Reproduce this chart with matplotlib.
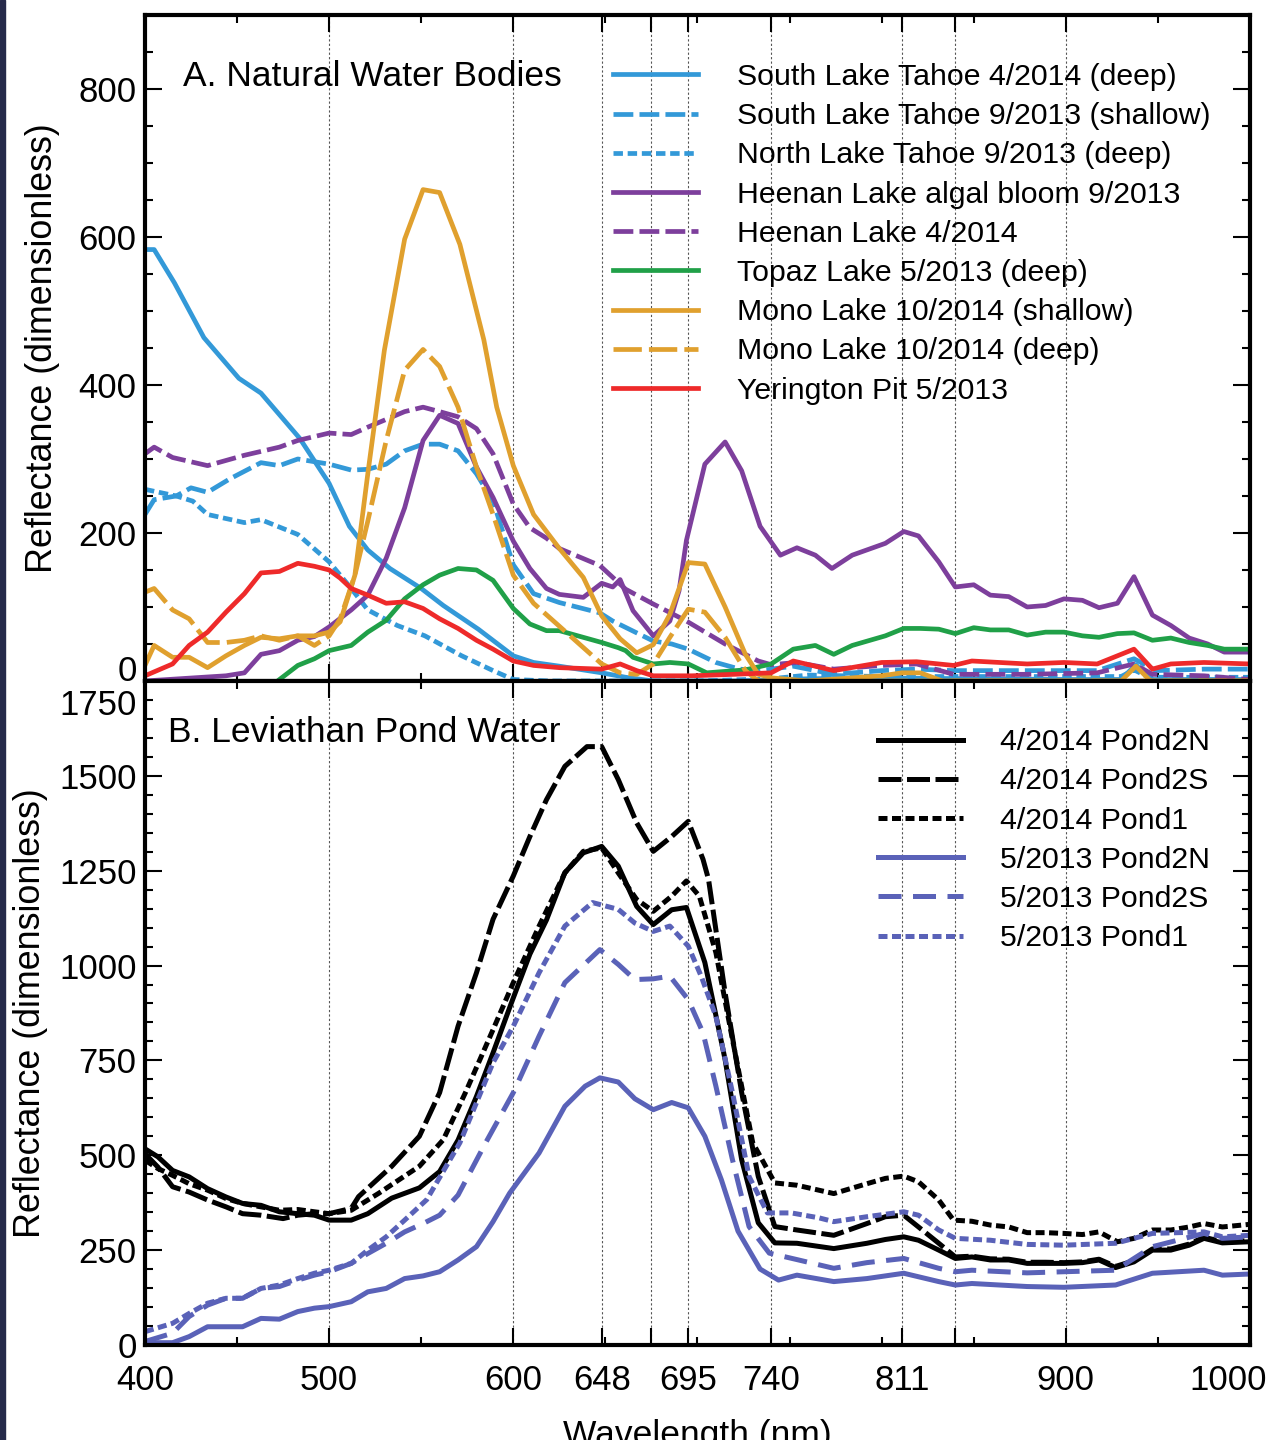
import matplotlib.pyplot as plt
import matplotlib.transforms as mtransforms
from matplotlib.patches import Rectangle

plt.rcParams['font.family'] = ['Liberation Sans', 'DejaVu Sans']

# ---------------- panel A: natural water bodies ----------------
tahoe_deep_wl = [400, 405, 416, 432, 451, 463, 484, 500, 511, 521, 533, 550, 562, 581, 600, 611, 625, 648,
                 661, 676, 720, 760, 800, 850, 900, 930, 938, 946, 970, 1000]
tahoe_deep = [583, 583, 538, 464, 409, 389, 328, 267, 209, 177, 152, 125, 102, 70, 34, 25, 20, 11,
              5, 0, 0, 3, 4, 3, 2, 2, 22, 2, 2, 2]

tahoe_shallow_wl = [400, 405, 417, 425, 434, 446, 463, 473, 483, 500, 512, 521, 531, 541, 551, 560, 570, 580,
                    589, 600, 611, 625, 647, 654, 667, 676, 686, 695, 710, 723, 733, 740, 752, 774, 800, 819,
                    839, 879, 917, 937, 949, 975, 1000]
tahoe_shallow = [225, 245, 250, 261, 255, 273, 295, 291, 300, 293, 285, 286, 293, 311, 320, 320, 311, 280,
                 243, 157, 118, 106, 92, 81, 65, 54, 50, 43, 25, 16, 14, 16, 20, 9, 14, 16,
                 14, 14, 14, 30, 14, 16, 16]

north_tahoe_wl = [400, 417, 426, 434, 454, 463, 483, 500, 512, 521, 537, 552, 572, 589, 600, 620, 700, 740,
                  760, 800, 850, 900, 930, 937, 945, 1000]
north_tahoe = [259, 250, 243, 225, 214, 218, 198, 161, 125, 96, 75, 61, 34, 14, 2, 0, 0, 3,
               8, 6, 6, 6, 6, 15, 5, 5]

heenan_bloom_wl = [400, 444, 454, 463, 473, 483, 492, 500, 512, 521, 531, 541, 551, 560, 570, 580, 589, 600,
                   609, 618, 625, 638, 648, 654, 658, 665, 676, 685, 690, 694, 704, 715, 724, 734, 745, 754,
                   764, 773, 784, 802, 812, 820, 831, 840, 850, 859, 869, 879, 889, 899, 909, 918, 928, 937,
                   947, 957, 967, 977, 986, 1000]
heenan_bloom = [0, 7, 11, 36, 41, 55, 60, 73, 96, 116, 166, 234, 325, 359, 348, 289, 248, 189,
                152, 125, 117, 113, 132, 127, 137, 95, 61, 81, 122, 190, 293, 323, 284, 209, 170, 180,
                170, 152, 170, 186, 202, 196, 161, 127, 130, 116, 114, 100, 102, 111, 109, 99, 105, 141,
                89, 75, 58, 50, 39, 39]

heenan_apr_wl = [400, 405, 415, 434, 454, 473, 483, 500, 512, 521, 541, 551, 560, 570, 580, 589, 600, 609,
                 618, 625, 647, 661, 676, 694, 715, 733, 740, 754, 774, 800, 819, 839, 879, 917, 937, 947,
                 975, 1000]
heenan_apr = [307, 316, 302, 291, 305, 316, 325, 335, 333, 343, 364, 370, 364, 357, 341, 307, 239, 207,
              193, 179, 156, 124, 104, 81, 50, 27, 22, 25, 16, 21, 23, 9, 9, 11, 23, 9,
              7, 2]

topaz_wl = [472, 483, 492, 500, 512, 521, 531, 541, 551, 560, 570, 580, 589, 600, 609, 618, 625, 648,
            657, 661, 665, 676, 685, 695, 705, 726, 740, 752, 764, 774, 784, 802, 812, 821, 831, 840,
            850, 859, 869, 879, 889, 899, 909, 918, 928, 937, 947, 957, 967, 977, 986, 1000]
topaz = [0, 21, 30, 41, 48, 66, 82, 111, 130, 143, 152, 150, 136, 98, 77, 68, 68, 52,
         45, 41, 32, 23, 25, 23, 11, 15, 23, 43, 48, 36, 48, 61, 71, 71, 70, 64,
         72, 69, 69, 62, 66, 66, 61, 59, 64, 65, 55, 58, 52, 48, 43, 43]

mono_shallow_wl = [400, 405, 415, 424, 434, 444, 454, 463, 473, 483, 492, 500, 506, 514, 521, 530, 541, 551,
                   560, 571, 584, 591, 600, 611, 625, 638, 648, 658, 667, 676, 685, 695, 704, 715, 726, 733,
                   741, 760, 800, 811, 821, 833, 930, 938, 946, 1000]
mono_shallow = [21, 48, 32, 32, 18, 34, 48, 59, 57, 61, 61, 66, 80, 143, 280, 447, 597, 664,
                660, 590, 461, 370, 291, 225, 179, 140, 88, 57, 38, 49, 90, 160, 158, 100, 36, 9,
                4, 0, 7, 11, 11, 0, 0, 20, 0, 0]

mono_deep_wl = [400, 405, 415, 424, 434, 444, 454, 463, 473, 483, 492, 500, 506, 514, 521, 531, 541, 551,
                560, 570, 580, 589, 600, 611, 625, 648, 658, 667, 676, 685, 695, 704, 715, 726, 733, 760,
                1000]
mono_deep = [120, 125, 96, 84, 52, 52, 55, 61, 55, 61, 48, 61, 84, 143, 216, 325, 420, 448,
             425, 370, 289, 225, 143, 105, 74, 23, 11, 9, 23, 59, 97, 93, 59, 14, 0, 0,
             0]

yerington_wl = [400, 415, 424, 434, 444, 454, 463, 473, 483, 492, 500, 506, 512, 521, 531, 541, 551, 560,
                570, 580, 589, 600, 611, 625, 648, 658, 667, 676, 697, 720, 740, 752, 774, 800, 819, 839,
                849, 879, 899, 917, 937, 947, 957, 975, 1000]
yerington = [7, 23, 48, 66, 93, 118, 146, 148, 159, 155, 150, 139, 125, 116, 105, 107, 98, 84,
             71, 55, 43, 27, 21, 18, 16, 23, 14, 7, 7, 9, 11, 27, 14, 25, 26, 21,
             27, 23, 25, 23, 43, 16, 23, 25, 23]

# ---------------- panel B: Leviathan pond water ----------------
p2n_14_wl = [400, 407, 415, 424, 434, 444, 453, 463, 473, 483, 492, 500, 512, 521, 534, 549, 560, 570,
             580, 589, 599, 609, 618, 628, 638, 648, 657, 667, 676, 686, 694, 704, 715, 724, 733, 742,
             754, 774, 792, 802, 812, 820, 831, 840, 849, 859, 869, 879, 889, 899, 909, 918, 927, 937,
             947, 957, 967, 975, 985, 1000]
p2n_14 = [517, 496, 460, 443, 412, 390, 373, 368, 351, 346, 342, 329, 329, 346, 387, 414, 457, 540,
          655, 770, 902, 1030, 1120, 1245, 1297, 1314, 1262, 1156, 1108, 1147, 1153, 1008, 752, 488, 322, 269,
          268, 254, 268, 278, 285, 276, 250, 228, 232, 224, 224, 215, 215, 215, 217, 224, 204, 219,
          250, 250, 263, 281, 269, 272]

p2s_14_wl = [400, 407, 415, 424, 434, 444, 453, 463, 475, 483, 492, 500, 512, 516, 534, 549, 560, 570,
             580, 589, 600, 609, 618, 628, 640, 648, 657, 667, 676, 686, 695, 703, 706, 715, 724, 733,
             742, 754, 774, 792, 802, 812, 820, 831, 840, 849, 859, 869, 879, 889, 899, 909, 918, 927,
             937, 947, 957, 967, 975, 985, 1000]
p2s_14 = [504, 469, 417, 403, 382, 364, 346, 342, 333, 342, 346, 346, 360, 391, 471, 550, 665, 840,
          981, 1122, 1236, 1340, 1437, 1525, 1577, 1577, 1490, 1376, 1301, 1340, 1380, 1280, 1227, 928, 665, 444,
          312, 303, 289, 320, 338, 342, 311, 268, 232, 234, 227, 226, 218, 218, 217, 219, 226, 207,
          222, 253, 253, 266, 284, 272, 275]

p1_14_wl = [400, 407, 415, 424, 434, 444, 453, 463, 473, 483, 492, 500, 512, 527, 549, 562, 574, 589,
            600, 614, 628, 638, 648, 657, 667, 676, 686, 694, 701, 710, 719, 730, 742, 754, 774, 792,
            802, 812, 820, 831, 839, 849, 859, 869, 879, 889, 899, 909, 918, 928, 937, 947, 957, 967,
            975, 985, 1000]
p1_14 = [487, 465, 447, 425, 408, 386, 373, 364, 355, 357, 351, 346, 355, 400, 471, 541, 665, 831,
         955, 1104, 1244, 1301, 1310, 1244, 1174, 1143, 1183, 1223, 1183, 1034, 805, 533, 427, 421, 399, 425,
         439, 445, 430, 382, 329, 326, 316, 311, 296, 296, 294, 291, 298, 272, 281, 303, 303, 311,
         320, 311, 318]

p2n_13_wl = [400, 415, 424, 434, 444, 453, 463, 473, 483, 492, 500, 512, 521, 531, 541, 551, 560, 570,
             580, 589, 598, 614, 628, 639, 647, 657, 666, 676, 686, 695, 704, 713, 722, 734, 744, 754,
             774, 792, 812, 831, 840, 849, 879, 899, 927, 947, 975, 985, 1000]
p2n_13 = [6, 6, 22, 48, 48, 48, 70, 68, 88, 97, 101, 114, 140, 149, 175, 182, 193, 224,
          259, 325, 400, 506, 629, 682, 704, 693, 649, 620, 639, 625, 550, 435, 300, 200, 171, 184,
          167, 175, 189, 167, 158, 162, 154, 152, 158, 189, 197, 184, 187]

p2s_13_wl = [400, 415, 424, 434, 444, 453, 463, 473, 483, 492, 500, 512, 521, 531, 541, 551, 560, 570,
             585, 600, 614, 628, 647, 657, 666, 676, 685, 695, 703, 710, 719, 728, 739, 754, 774, 792,
             812, 831, 840, 849, 879, 899, 927, 947, 975, 985, 1000]
p2s_13 = [9, 31, 75, 105, 123, 123, 149, 154, 171, 184, 193, 215, 241, 268, 298, 320, 342, 395,
          533, 665, 814, 955, 1042, 1003, 963, 965, 972, 910, 823, 682, 488, 312, 242, 225, 202, 217,
          228, 202, 193, 197, 190, 193, 197, 259, 294, 281, 285]

p1_13_wl = [400, 415, 424, 434, 444, 453, 463, 473, 483, 492, 500, 512, 521, 531, 541, 553, 571, 589,
            600, 614, 628, 643, 657, 666, 676, 685, 695, 702, 710, 719, 728, 738, 751, 766, 774, 792,
            812, 820, 831, 840, 859, 879, 899, 927, 947, 975, 985, 1000]
p1_13 = [35, 57, 83, 110, 123, 123, 149, 158, 175, 189, 197, 215, 250, 285, 329, 383, 533, 744,
         840, 981, 1104, 1166, 1148, 1112, 1090, 1104, 1051, 972, 866, 665, 444, 348, 348, 335, 325, 338,
         351, 342, 303, 281, 276, 265, 263, 268, 294, 298, 285, 289]

# axis ticks
major_ticks = [400, 500, 600, 648, 675, 695, 740, 811, 840, 900, 1000]
major_labels = ['400', '500', '600', '648', '', '695', '740', '811', '', '900', '1000']
minor_ticks = [450, 550, 650, 700, 750, 800, 850, 950]

BLUE = '#3399d8'
PURPLE = '#7d3f9c'
GREEN = '#20a048'
ORANGE = '#e0a02e'
RED = '#ee2a2a'
SLATE = '#5a62b8'

DASH = (4.2, 1.3)
DOT = (2.0, 1.0)

fig = plt.figure(figsize=(12.67, 14.4), dpi=100)
ax1 = fig.add_axes([0.1144, 0.5271, 0.8722, 0.4625])
ax2 = fig.add_axes([0.1144, 0.0660, 0.8722, 0.4611])
fig.patches.append(Rectangle((0, 0), 5 / 1267, 1, transform=fig.transFigure, color='#262a4a', zorder=0))

lw_a = 3.4
ax1.plot(tahoe_deep_wl, tahoe_deep, color=BLUE, lw=lw_a, label='South Lake Tahoe 4/2014 (deep)')
ax1.plot(tahoe_shallow_wl, tahoe_shallow, color=BLUE, lw=lw_a, dashes=DASH, label='South Lake Tahoe 9/2013 (shallow)')
ax1.plot(north_tahoe_wl, north_tahoe, color=BLUE, lw=lw_a, dashes=DOT, label='North Lake Tahoe 9/2013 (deep)')
ax1.plot(heenan_bloom_wl, heenan_bloom, color=PURPLE, lw=lw_a, label='Heenan Lake algal bloom 9/2013')
ax1.plot(heenan_apr_wl, heenan_apr, color=PURPLE, lw=lw_a, dashes=DASH, label='Heenan Lake 4/2014')
ax1.plot(topaz_wl, topaz, color=GREEN, lw=lw_a, label='Topaz Lake 5/2013 (deep)')
ax1.plot(mono_shallow_wl, mono_shallow, color=ORANGE, lw=lw_a, label='Mono Lake 10/2014 (shallow)')
ax1.plot(mono_deep_wl, mono_deep, color=ORANGE, lw=lw_a, dashes=(6.0, 1.5), label='Mono Lake 10/2014 (deep)')
ax1.plot(yerington_wl, yerington, color=RED, lw=lw_a, label='Yerington Pit 5/2013')

lw_b = 3.6
ax2.plot(p2n_14_wl, p2n_14, color='black', lw=lw_b, label='4/2014 Pond2N')
ax2.plot(p2s_14_wl, p2s_14, color='black', lw=lw_b, dashes=(4.6, 1.1), label='4/2014 Pond2S')
ax2.plot(p1_14_wl, p1_14, color='black', lw=lw_b, dashes=(1.8, 0.9), label='4/2014 Pond1')
ax2.plot(p2n_13_wl, p2n_13, color=SLATE, lw=lw_b, label='5/2013 Pond2N')
ax2.plot(p2s_13_wl, p2s_13, color=SLATE, lw=lw_b, dashes=(4.6, 2.3), label='5/2013 Pond2S')
ax2.plot(p1_13_wl, p1_13, color=SLATE, lw=lw_b, dashes=(1.8, 0.9), label='5/2013 Pond1')

ax1.set_ylim(0, 900)
ax1.set_yticks([0, 200, 400, 600, 800])
ax1.set_yticks(range(50, 900, 50), minor=True)
ax2.set_ylim(0, 1750)
ax2.set_yticks(range(0, 1751, 250))
ax2.set_yticks(range(50, 1750, 50), minor=True)

for ax in (ax1, ax2):
    ax.set_xlim(400, 1000)
    ax.set_xticks(major_ticks)
    ax.set_xticklabels(major_labels)
    ax.set_xticks(minor_ticks, minor=True)
    ax.tick_params(which='both', direction='in', top=True, right=True, width=1.5, labelsize=25)
    ax.tick_params(which='major', length=12)
    ax.tick_params(which='minor', length=6)
    ax.tick_params(axis='y', pad=6)
    ax.grid(axis='x', which='major', color='#555555', linestyle=(0, (2, 2)), linewidth=0.8)
    for s in ax.spines.values():
        s.set_linewidth(3)
    ax.set_ylabel('Reflectance (dimensionless)', fontsize=25.8)

ax1.tick_params(axis='x', labelbottom=False)
ax2.tick_params(axis='x', pad=14)
ax1.yaxis.set_label_coords(-0.077, 0.5)
ax2.yaxis.set_label_coords(-0.088, 0.5)
ax2.set_xlabel('Wavelength (nm)', fontsize=25.5)
ax2.xaxis.set_label_coords(0.5, -0.112)

ax1.text(0.034, 0.893, 'A. Natural Water Bodies', transform=ax1.transAxes, fontsize=25.5, va='baseline')
ax2.text(0.021, 0.908, 'B. Leviathan Pond Water', transform=ax2.transAxes, fontsize=25.5, va='baseline')

ax1.legend(loc='upper left', bbox_to_anchor=(0.4235, 0.928), frameon=False, fontsize=21.8,
           handlelength=2.8, handletextpad=1.3, labelspacing=0.37, borderpad=0, borderaxespad=0)
ax2.legend(loc='upper left', bbox_to_anchor=(0.6633, 0.929), frameon=False, fontsize=21.8,
           handlelength=2.8, handletextpad=1.22, labelspacing=0.37, borderpad=0, borderaxespad=0)

# nudge crowded tick labels like the original
ax1.yaxis.get_major_ticks()[0].label1.set_verticalalignment('baseline')
top_lab = ax2.yaxis.get_major_ticks()[-1].label1
top_lab.set_verticalalignment('top')
top_lab.set_transform(top_lab.get_transform() + mtransforms.ScaledTranslation(0, -0.08, fig.dpi_scale_trans))
lab = ax2.xaxis.get_major_ticks()[-1].label1
lab.set_transform(lab.get_transform() + mtransforms.ScaledTranslation(-0.22, 0, fig.dpi_scale_trans))

fig.savefig('out.png', dpi=100)
